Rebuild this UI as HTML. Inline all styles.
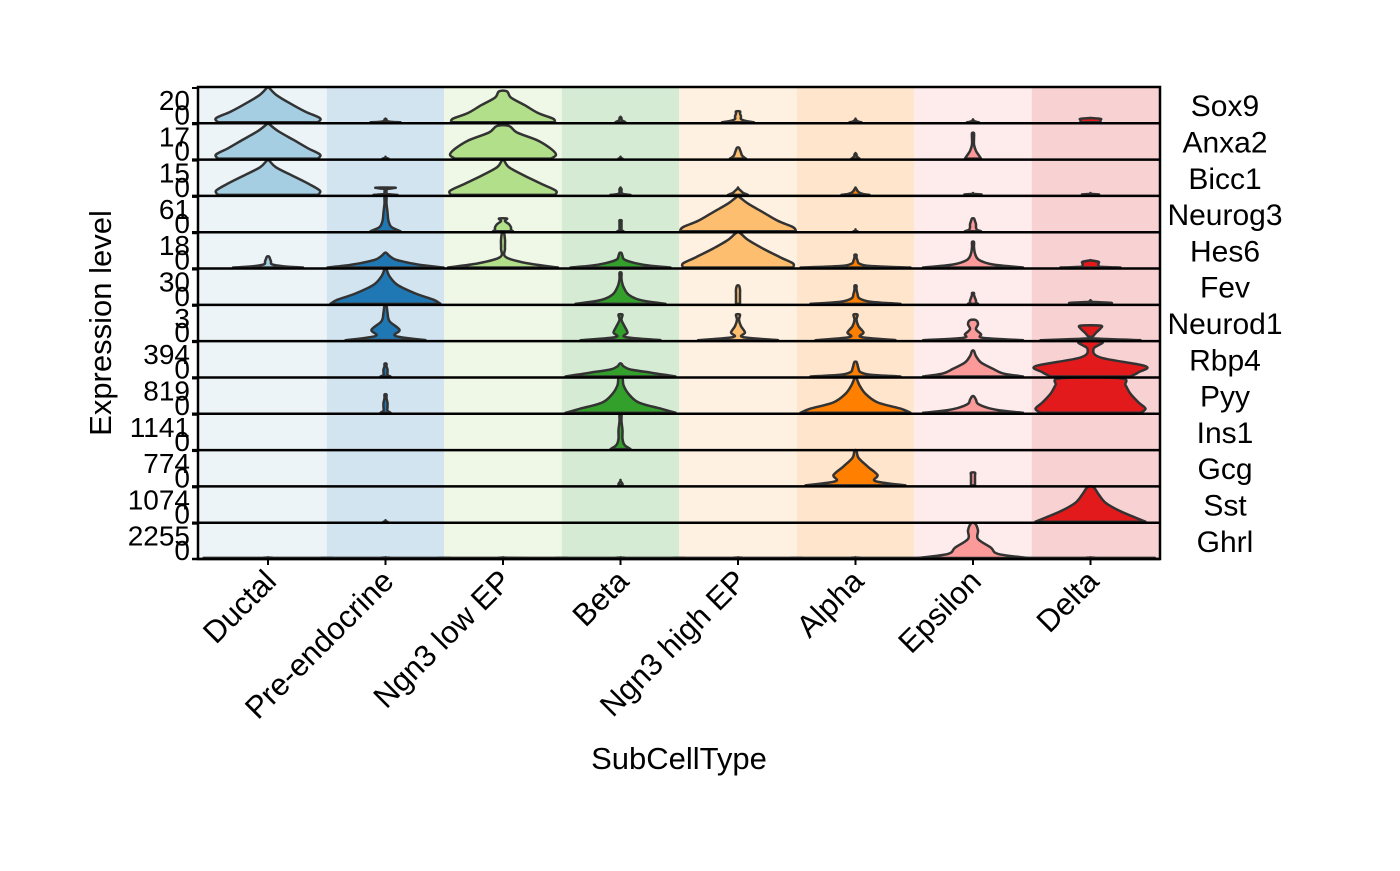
<!DOCTYPE html>
<html><head><meta charset="utf-8"><style>
html,body{margin:0;padding:0;background:#fff;}
svg text{font-family:"Liberation Sans",Arial,sans-serif;fill:#000;}
</style></head><body>
<svg id="chart" width="1400" height="866" viewBox="0 0 1400 866" xmlns="http://www.w3.org/2000/svg">
<g id="bg"></g>
<g id="violins"></g>
<g id="grid"></g>
<g id="labels"></g>
<text x="0" y="0" font-size="31" text-anchor="middle" transform="translate(111,323) rotate(-90)">Expression level</text>
<text x="679" y="769" font-size="31" text-anchor="middle">SubCellType</text>
</svg>
<script>
const cellTypes = ["Ductal","Pre-endocrine","Ngn3 low EP","Beta","Ngn3 high EP","Alpha","Epsilon","Delta"];
const genes = ["Sox9","Anxa2","Bicc1","Neurog3","Hes6","Fev","Neurod1","Rbp4","Pyy","Ins1","Gcg","Sst","Ghrl"];
const yMaxLabels = ["20","17","15","61","18","30","3","394","819","1141","774","1074","2255"];
const fillColors = ["#a6cee3","#1f78b4","#b2df8a","#33a02c","#fdbf6f","#ff7f00","#fb9a99","#e31a1c"];
const bgColors = ["#edf4f8","#d2e4f0","#eff7e7","#d6ebd4","#fef1e1","#ffe5cc","#feebeb","#f8d1d2"];
// per gene: per cell type [heightFrac, halfwidths at 0,.12,.3,.55,.8,1 of height] (0 = none)
const profSox9 =    [[0.95,50,52,38,22,8,1],[0.1,15,6,2,1,1,0],[0.85,52,50,35,22,8,4],[0.15,5,4,2,1,1,0],[0.3,16,8,3,3,2,2],[0.1,6,4,2,1,0,0],[0.08,6,4,2,1,0,0],[0.12,10,10,10,10,10,0]];
const profAnxa2 =   [[0.95,50,52,40,25,10,1],[0.05,3,2,1,0,0,0],[0.9,48,53,48,35,14,6],[0.05,2,1,1,0,0,0],[0.3,8,6,4,3,2,1],[0.15,4,3,2,1,1,0],[0.7,8,6,3,1,1,1],0];
const profBicc1 =   [[0.95,50,52,42,25,8,1],[0.2,12,2,1,1,1,10],[0.95,52,53,40,22,6,1],[0.2,10,3,1,1,1,0],[0.2,10,8,5,3,1,0],[0.2,14,8,4,2,1,0],[0.05,8,8,8,0,0,0],[0.05,8,8,8,0,0,0]];
const profNeurog3 = [0,[0.95,15,6,3,2,1,1],[0.35,10,8,8,6,2,4],[0.3,3,1,1,1,1,1],[0.95,58,55,40,25,10,1],[0.05,2,1,0,0,0,0],[0.35,8,4,3,3,2,1],0];
const profHes6 =    [[0.3,35,15,4,3,2,1],[0.4,58,42,25,10,4,1],[0.95,55,25,3,2,2,1],[0.4,50,30,15,4,2,1],[0.95,55,55,42,25,10,2],[0.35,55,15,4,2,1,1],[0.7,50,20,6,2,1,1],[0.2,30,10,8,8,8,0]];
const profFev =     [0,[0.95,55,48,30,12,4,1],0,[0.85,45,20,8,3,1,1],[0.5,2,2,2,2,2,1],[0.5,45,15,4,2,1,1],[0.3,5,3,3,2,1,1],[0.1,20,20,20,0,0,0]];
const profNeurod1 = [0,[0.95,40,10,14,4,2,1],0,[0.7,40,5,7,4,1,2],[0.7,40,5,7,3,1,2],[0.7,40,6,8,3,1,2],[0.55,50,10,8,3,5,3],[0.4,50,3,3,6,10,10]];
const profRbp4 =    [0,[0.35,5,2,2,2,1,1],0,[0.35,55,45,30,10,3,1],0,[0.4,45,15,5,3,2,1],[0.7,50,30,20,8,3,1],[0.95,40,48,55,10,3,12]];
const profPyy =     [0,[0.5,5,2,2,2,1,1],0,[0.95,55,40,18,8,3,2],0,[0.95,55,45,22,10,4,1],[0.45,50,30,15,5,3,1],[0.95,50,55,48,40,35,30]];
const profIns1 =    [0,0,0,[0.95,10,4,2,2,1,1],0,0,0,0];
const profGcg =     [0,0,0,[0.15,2,2,2,1,0,0],0,[0.95,50,20,22,12,3,1],[0.35,2,2,2,2,2,2],0];
const profSst =     [0,[0.04,2,1,0,0,0,0],0,0,0,0,0,[0.95,55,45,30,15,8,3]];
const profGhrl =    [[0.02,60,60,0,0,0,0],[0.02,60,60,0,0,0,0],[0.02,60,60,0,0,0,0],[0.02,60,60,0,0,0,0],[0.02,60,60,0,0,0,0],[0.02,60,60,0,0,0,0],[0.95,55,25,18,5,5,2],[0.02,60,60,0,0,0,0]];
const profiles = [profSox9,profAnxa2,profBicc1,profNeurog3,profHes6,profFev,profNeurod1,profRbp4,profPyy,profIns1,profGcg,profSst,profGhrl];

const NS="http://www.w3.org/2000/svg";
const panelL=198, panelR=1160, panelT=87, panelB=559;
const colW=117.5, col0=268;
const rowH=(panelB-panelT)/genes.length;
function xPos(i){return col0+i*colW;}
function rowTop(r){return panelT+r*rowH;}
function mk(tag,attrs,parent){const e=document.createElementNS(NS,tag);for(const k in attrs)e.setAttribute(k,attrs[k]);parent.appendChild(e);return e;}
const bg=document.getElementById('bg'),vg=document.getElementById('violins'),gg=document.getElementById('grid'),lg=document.getElementById('labels');
const fracs=[0,0.12,0.3,0.55,0.8,1];

cellTypes.forEach((c,i)=>{
  const x0=i===0?panelL:xPos(i)-colW/2, x1=i===cellTypes.length-1?panelR:xPos(i)+colW/2;
  const r=mk('rect',{x:x0,y:panelT,width:x1-x0,height:panelB-panelT,fill:bgColors[i]},bg);
  
  
  const t=mk('text',{'font-size':31,'text-anchor':'end',transform:`translate(${xPos(i)+10},${panelB+24}) rotate(-45)`},lg);
  t.textContent=c;
  
  
  const tk=mk('line',{x1:xPos(i),x2:xPos(i),y1:panelB,y2:panelB+6,stroke:'#000','stroke-width':2},gg);
  
  
});

function smoothPath(pts){
  let d='M'+pts[0][0]+','+pts[0][1];
  for(let i=0;i<pts.length-1;i++){
    const p0=pts[Math.max(0,i-1)],p1=pts[i],p2=pts[i+1],p3=pts[Math.min(pts.length-1,i+2)];
    const c1=[p1[0]+(p2[0]-p0[0])/6,p1[1]+(p2[1]-p0[1])/6];
    const c2=[p2[0]-(p3[0]-p1[0])/6,p2[1]-(p3[1]-p1[1])/6];
    d+=` C${c1[0].toFixed(1)},${c1[1].toFixed(1)} ${c2[0].toFixed(1)},${c2[1].toFixed(1)} ${p2[0].toFixed(1)},${p2[1].toFixed(1)}`;
  }
  return d;
}

genes.forEach((g,r)=>{
  const top=rowTop(r), bot=top+rowH;
  profiles[r].forEach((p,i)=>{
    if(!p) return;
    const h=p[0]*rowH, cx=xPos(i), base=bot-1;
    const right=fracs.map((f,k)=>[cx+p[k+1],base-f*h]);
    const left=fracs.map((f,k)=>[cx-p[k+1],base-f*h]).reverse();
    const pts=[...right,...left];
    const path=mk('path',{d:smoothPath(pts)+' Z',fill:fillColors[i],stroke:'#333','stroke-width':2.5,'stroke-linejoin':'round'},vg);
    
    
  });
  const ln=mk('line',{x1:panelL-6,x2:panelR,y1:bot,y2:bot,stroke:'#000','stroke-width':2.5},gg);
  
  
  const tk=mk('line',{x1:panelL-6,x2:panelL,y1:top+1,y2:top+1,stroke:'#000','stroke-width':2},gg);
  
  
  const tm=mk('text',{x:190,y:top+23,'font-size':28,'text-anchor':'end'},lg);
  tm.textContent=yMaxLabels[r];
  
  
  const t0=mk('text',{x:190,y:bot+1,'font-size':28,'text-anchor':'end'},lg);
  t0.textContent='0';
  
  
  const gl=mk('text',{x:1225,y:top+rowH/2+11,'font-size':30,'text-anchor':'middle'},lg);
  gl.textContent=g;
  
  
});
const frame=mk('rect',{x:panelL,y:panelT,width:panelR-panelL,height:panelB-panelT,fill:'none',stroke:'#000','stroke-width':2.5},gg);


</script>
</body></html>
